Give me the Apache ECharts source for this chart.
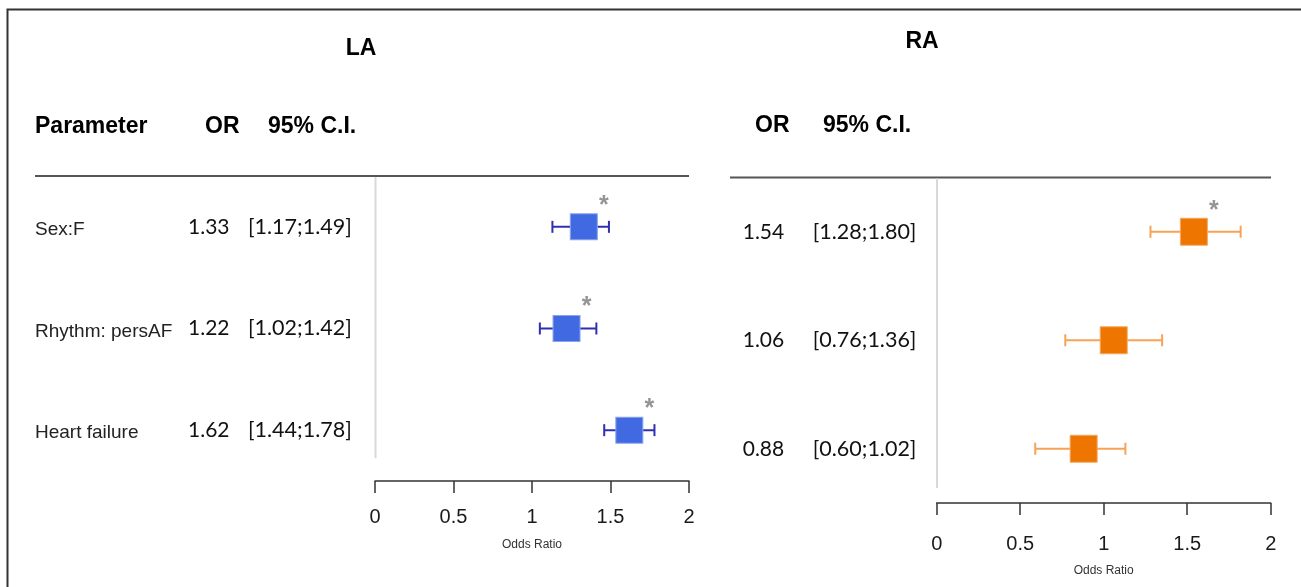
<!DOCTYPE html>
<html>
<head>
<meta charset="utf-8">
<script src="https://cdn.jsdelivr.net/npm/echarts@6/dist/echarts.min.js"></script>
<style>
  html, body { margin: 0; padding: 0; background: #fff; }
  #main { width: 1301px; height: 587px; }
</style>
</head>
<body>
<div id="main"></div>
<script>
// 参数与数值
const params = ['Sex:F', 'Rhythm: persAF', 'Heart failure'];
const xTicks = [0, 0.5, 1, 1.5, 2];

// LA
const laOR = [1.33, 1.22, 1.62];
const laLow = [1.13, 1.05, 1.46];
const laHigh = [1.49, 1.41, 1.78];
const laCI = ['[1.17;1.49]', '[1.02;1.42]', '[1.44;1.78]'];
const laSig = [true, true, true];

// RA
const raOR = [1.54, 1.06, 0.88];
const raLow = [1.28, 0.77, 0.59];
const raHigh = [1.82, 1.35, 1.13];
const raCI = ['[1.28;1.80]', '[0.76;1.36]', '[0.60;1.02]'];
const raSig = [true, false, false];

const ARIAL = '"Liberation Sans", Arial, sans-serif';
const CALIBRI = 'Lato, "Open Sans", sans-serif';

const chart = echarts.init(document.getElementById('main'));

// 误差线
function errorSeries(gridIdx, low, high, color) {
    return {
        type: 'custom',
        xAxisIndex: gridIdx,
        yAxisIndex: gridIdx,
        data: params.map((p, i) => [i, low[i], high[i]]),
        encode: { x: [1, 2], y: 0 },
        z: 2,
        renderItem: function(p, api) {
            const a = api.coord([api.value(1), api.value(0)]);
            const b = api.coord([api.value(2), api.value(0)]);
            const h = 6;
            const style = { stroke: color, lineWidth: 2 };
            return {
                type: 'group',
                children: [
                    { type: 'line', shape: { x1: a[0], y1: a[1], x2: b[0], y2: b[1] }, style: style },
                    { type: 'line', shape: { x1: a[0], y1: a[1] - h, x2: a[0], y2: a[1] + h }, style: style },
                    { type: 'line', shape: { x1: b[0], y1: b[1] - h, x2: b[0], y2: b[1] + h }, style: style }
                ]
            };
        }
    };
}

// 方块
function boxSeries(gridIdx, or, color, border, size) {
    return {
        type: 'scatter',
        xAxisIndex: gridIdx,
        yAxisIndex: gridIdx,
        symbol: 'rect',
        symbolSize: size,
        z: 3,
        itemStyle: { color: color, borderColor: border, borderWidth: 1, opacity: 1 },
        data: or.map((v, i) => [v, i])
    };
}

// 显著性星号
function starSeries(gridIdx, or, sig) {
    return {
        type: 'scatter',
        xAxisIndex: gridIdx,
        yAxisIndex: gridIdx,
        symbolSize: 1,
        z: 4,
        itemStyle: { color: 'rgba(0,0,0,0)' },
        label: {
            show: true,
            formatter: '*',
            position: 'inside',
            offset: [20, -21],
            color: '#7a7a7a',
            fontSize: 25,
            fontWeight: 'bold',
            fontFamily: ARIAL
        },
        data: or.map((v, i) => [v, i]).filter((d, i) => sig[i])
    };
}

function xAxisCfg(gridIdx, labelMargin, nameGap) {
    return {
        gridIndex: gridIdx,
        type: 'value',
        min: 0,
        max: 2,
        interval: 0.5,
        axisLine: { show: true, lineStyle: { color: '#333', width: 1.5 } },
        axisTick: { show: true, length: 12, lineStyle: { color: '#333', width: 1.5 } },
        splitLine: { show: false },
        axisLabel: {
            margin: labelMargin,
            fontSize: 20,
            color: '#1a1a1a',
            fontFamily: ARIAL,
            formatter: v => xTicks.indexOf(v) >= 0 ? String(v) : ''
        },
        name: 'Odds Ratio',
        nameLocation: 'middle',
        nameGap: nameGap,
        nameTextStyle: { fontSize: 12, color: '#333', fontFamily: ARIAL }
    };
}

const option = {
    backgroundColor: '#fff',
    animation: false,
    grid: [
        { left: 375, top: 176, width: 314, height: 305 },
        { left: 936.7, top: 177.5, width: 334, height: 325.5 }
    ],
    xAxis: [xAxisCfg(0, 26, 58), xAxisCfg(1, 31, 62)],
    yAxis: [
        {
            gridIndex: 0,
            type: 'category',
            data: params,
            inverse: true,
            axisLine: { show: false },
            axisTick: { show: false },
            axisLabel: {
                margin: 22,
                formatter: (v, i) => `{p|${v}}{or|${laOR[i].toFixed(2)}}{ci|${laCI[i]}}`,
                rich: {
                    p: { width: 153, align: 'left', fontSize: 19, fontFamily: ARIAL, color: '#222', padding: [6, 0, 0, 0] },
                    or: { width: 60, align: 'left', fontSize: 21, fontFamily: CALIBRI, color: '#111' },
                    ci: { width: 105, align: 'left', fontSize: 21.5, fontFamily: CALIBRI, color: '#111' }
                }
            }
        },
        {
            gridIndex: 1,
            type: 'category',
            data: params,
            inverse: true,
            axisLine: { show: false },
            axisTick: { show: false },
            axisLabel: {
                margin: 20,
                formatter: (v, i) => `{or|${raOR[i].toFixed(2)}}{ci|${raCI[i]}}`,
                rich: {
                    or: { width: 70, align: 'left', fontSize: 21, fontFamily: CALIBRI, color: '#111' },
                    ci: { width: 104, align: 'left', fontSize: 21.5, fontFamily: CALIBRI, color: '#111' }
                }
            }
        }
    ],
    graphic: [
        // 外框
        { type: 'polyline', shape: { points: [[7.5, 587], [7.5, 9.5], [1301, 9.5]] }, style: { stroke: '#333', lineWidth: 2, fill: null } },
        // 标题
        { type: 'text', x: 361, y: 49, style: { text: 'LA', font: 'bold 23px ' + ARIAL, fill: '#000', textAlign: 'center', textVerticalAlign: 'middle' } },
        { type: 'text', x: 922, y: 42, style: { text: 'RA', font: 'bold 23px ' + ARIAL, fill: '#000', textAlign: 'center', textVerticalAlign: 'middle' } },
        // 表头
        { type: 'text', x: 35, y: 127, style: { text: 'Parameter', font: 'bold 23px ' + ARIAL, fill: '#000', textVerticalAlign: 'middle' } },
        { type: 'text', x: 205, y: 127, style: { text: 'OR', font: 'bold 23px ' + ARIAL, fill: '#000', textVerticalAlign: 'middle' } },
        { type: 'text', x: 268, y: 127, style: { text: '95% C.I.', font: 'bold 23px ' + ARIAL, fill: '#000', textVerticalAlign: 'middle' } },
        { type: 'text', x: 755, y: 126, style: { text: 'OR', font: 'bold 23px ' + ARIAL, fill: '#000', textVerticalAlign: 'middle' } },
        { type: 'text', x: 823, y: 126, style: { text: '95% C.I.', font: 'bold 23px ' + ARIAL, fill: '#000', textVerticalAlign: 'middle' } },
        // 表头下划线
        { type: 'line', shape: { x1: 35, y1: 176, x2: 689, y2: 176 }, style: { stroke: '#555', lineWidth: 2 } },
        { type: 'line', shape: { x1: 730, y1: 177.5, x2: 1271, y2: 177.5 }, style: { stroke: '#555', lineWidth: 2 } },
        // OR=0 参考线
        { type: 'line', shape: { x1: 375.5, y1: 177, x2: 375.5, y2: 458 }, style: { stroke: '#d9d9d9', lineWidth: 2 } },
        { type: 'line', shape: { x1: 937, y1: 178.5, x2: 937, y2: 488 }, style: { stroke: '#d9d9d9', lineWidth: 2 } }
    ],
    series: [
        errorSeries(0, laLow, laHigh, '#2f2fb0'),
        boxSeries(0, laOR, '#4169E1', '#8aa4f0', [27, 26]),
        starSeries(0, laOR, laSig),
        errorSeries(1, raLow, raHigh, '#f7a257'),
        boxSeries(1, raOR, '#EE7600', '#f5a860', [27, 27]),
        starSeries(1, raOR, raSig)
    ]
};

chart.setOption(option);
</script>
</body>
</html>
